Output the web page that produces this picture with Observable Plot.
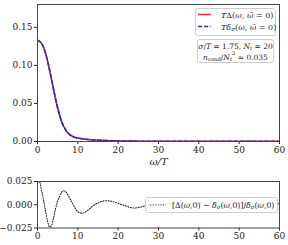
<!DOCTYPE html>
<html><head><meta charset="utf-8">
<script src="https://cdn.jsdelivr.net/npm/d3@7"></script>
<script src="https://cdn.jsdelivr.net/npm/@observablehq/plot@0.6"></script>
<style>
html,body{margin:0;padding:0;background:#fff;}
#chart{width:288px;height:245px;position:relative;overflow:hidden;}
#chart svg{display:block;}
#chart svg, #chart svg text{font-family:"DejaVu Serif","Liberation Serif",serif !important;}
#overlay{position:absolute;left:0;top:0;pointer-events:none;}
</style></head><body><div id="chart"></div>
<script>
// ---- data ----
const omegaTop   = [0, 1, 2, 3, 4, 5, 6, 7, 8, 9, 10, 12, 14, 16, 18, 20, 25, 30, 40, 50, 60];
const deltaT     = [0.133, 0.129, 0.116, 0.094, 0.068, 0.044, 0.026, 0.015, 0.009, 0.006, 0.0045, 0.003, 0.002, 0.0015, 0.001, 0.0007, 0.0004, 0.0003, 0.0002, 0.0001, 0.0001];
const deltaSigma = [0.133, 0.129, 0.116, 0.094, 0.068, 0.044, 0.026, 0.015, 0.009, 0.006, 0.0045, 0.003, 0.002, 0.0015, 0.001, 0.0007, 0.0004, 0.0003, 0.0002, 0.0001, 0.0001];

const omegaBottom = [0, 0.5, 1, 1.5, 2, 2.5, 3, 3.5, 4, 4.5, 5, 5.5, 6, 6.5, 7, 7.5, 8, 8.5, 9, 9.5, 10, 10.5, 11, 12, 13, 14, 15, 16, 17, 18, 19, 20, 21, 22, 23, 24, 25, 26, 28, 30, 35, 40, 45, 50, 55, 60];
const relDiff     = [0.035, 0.026, 0.016, 0.005, -0.007, -0.018, -0.024, -0.022, -0.014, -0.004, 0.004, 0.009, 0.0135, 0.015, 0.014, 0.011, 0.007, 0.003, -0.001, -0.005, -0.0075, -0.0088, -0.009, -0.0075, -0.004, -0.0005, 0.002, 0.0037, 0.0043, 0.004, 0.003, 0.0015, 0, -0.0015, -0.003, -0.0035, -0.003, -0.002, 0, 0.0008, 0.001, 0.001, 0.001, 0.001, 0.001, 0.001];

const xTicks       = [0, 10, 20, 30, 40, 50, 60];
const yTicksTop    = [0, 0.05, 0.10, 0.15];
const yTicksBottom = [-0.025, 0, 0.025];
const xLabel = "ω/T";

// legend texts as segments [text, italic, shift('sub'|'sup'|null)]
const legendTopA = [["T", 1], ["Δ(", 0], ["ω", 1], [", ", 0], ["ω\u0304", 1], [" = 0)", 0]];
const legendTopB = [["T", 1], ["δ", 1], ["σ", 1, "sub"], ["(", 0], ["ω", 1], [", ", 0], ["ω\u0304", 1], [" = 0)", 0]];
const infoLine1  = [["σ", 1], ["/", 0], ["T", 1], [" = 1.75, ", 0], ["N", 1], ["t", 1, "sub"], [" = 20", 0]];
const infoLine2  = [["n", 1], ["cond", 0, "sub"], ["/", 0], ["N", 1], ["t", 1, "sub"], ["2", 0, "sup"], [" ≃ 0.035", 0]];
const legendBottom = [["[Δ(", 0], ["ω", 1], [",0) − ", 0], ["δ", 1], ["σ", 1, "sub"], ["(", 0], ["ω", 1], [",0)]/", 0], ["δ", 1], ["σ", 1, "sub"], ["(", 0], ["ω", 1], [",0)", 0]];

// ---- plots ----
const font = "'DejaVu Serif', 'Liberation Serif', serif";
const topRows = omegaTop.map((w, i) => ({w, a: deltaT[i], b: deltaSigma[i]}));
const botRows = omegaBottom.map((w, i) => ({w, r: relDiff[i]}));

const topPlot = Plot.plot({
  width: 288, height: 166,
  marginTop: 4, marginBottom: 25, marginLeft: 37, marginRight: 9,
  style: {fontFamily: font, fontSize: "9px", color: "#222", background: "white"},
  x: {domain: [0, 60]},
  y: {domain: [0, 0.18]},
  marks: [
    Plot.axisX({ticks: xTicks, tickSize: 3, tickPadding: 2, label: null}),
    Plot.axisY({ticks: yTicksTop, tickFormat: d3.format(".2f"), tickSize: 3, tickPadding: 2, label: null}),
    Plot.line(topRows, {x: "w", y: "a", stroke: "#f03030", strokeWidth: 1.6, curve: "monotone-x", clip: true}),
    Plot.line(topRows, {x: "w", y: "b", stroke: "#2a2ab8", strokeWidth: 1.6, strokeDasharray: "4,2.2", curve: "monotone-x", clip: true}),
    Plot.frame({stroke: "#444", strokeWidth: 1}),
    Plot.text([xLabel], {frameAnchor: "bottom", lineAnchor: "middle", dy: 20, text: d => d, fontStyle: "italic", fontSize: 10, fill: "#222"})
  ]
});

const botPlot = Plot.plot({
  width: 288, height: 79,
  marginTop: 15, marginBottom: 17.5, marginLeft: 37, marginRight: 9,
  style: {fontFamily: font, fontSize: "9px", color: "#222", background: "white"},
  x: {domain: [0, 60]},
  y: {domain: [-0.025, 0.025]},
  marks: [
    Plot.axisX({ticks: xTicks, tickSize: 3, tickPadding: 2, label: null}),
    Plot.axisY({ticks: yTicksBottom, tickFormat: d3.format(".3f"), tickSize: 3, tickPadding: 2, label: null}),
    Plot.line(botRows, {x: "w", y: "r", stroke: "#222", strokeWidth: 1.1, strokeDasharray: "1,1.6", curve: "monotone-x", clip: true}),
    Plot.frame({stroke: "#444", strokeWidth: 1})
  ]
});

const chart = document.getElementById("chart");
chart.appendChild(topPlot);
chart.appendChild(botPlot);

// ---- legends overlay ----
const ov = d3.select(chart).append("svg").attr("id", "overlay")
  .attr("width", 288).attr("height", 245);

function richText(g, segs, x, y, size, anchor) {
  const t = g.append("text").attr("x", x).attr("y", y)
    .attr("font-size", size).attr("fill", "#222")
    .attr("text-anchor", anchor || "start").attr("dominant-baseline", "central");
  let prev = 0;
  for (const [s, it, sh] of segs) {
    const shift = sh === "sub" ? 2.2 : sh === "sup" ? -3.2 : 0;
    const ts = t.append("tspan").text(s).attr("dy", shift - prev);
    if (it) ts.attr("font-style", "italic");
    if (sh) ts.attr("font-size", size * 0.7);
    prev = shift;
  }
  return t;
}
function box(x, y, w, h) {
  ov.append("rect").attr("x", x).attr("y", y).attr("width", w).attr("height", h)
    .attr("rx", 2).attr("fill", "white").attr("fill-opacity", 0.85)
    .attr("stroke", "#ccc").attr("stroke-width", 1);
}
// top legend
box(195.5, 8.5, 80, 27);
ov.append("line").attr("x1", 198).attr("x2", 211).attr("y1", 14.5).attr("y2", 14.5)
  .attr("stroke", "#f03030").attr("stroke-width", 1.6);
ov.append("line").attr("x1", 198).attr("x2", 211).attr("y1", 26.5).attr("y2", 26.5)
  .attr("stroke", "#2a2ab8").attr("stroke-width", 1.6).attr("stroke-dasharray", "4,2.2");
richText(ov, legendTopA, 221, 14.5, 8);
richText(ov, legendTopB, 221, 26.5, 8);
// info box
box(197.5, 39.5, 76, 23);
richText(ov, infoLine1, 235.5, 45.5, 7.5, "middle");
richText(ov, infoLine2, 235.5, 56.5, 7.5, "middle");
// bottom legend
box(145.5, 197.5, 132, 15);
ov.append("line").attr("x1", 150).attr("x2", 166).attr("y1", 205).attr("y2", 205)
  .attr("stroke", "#222").attr("stroke-width", 1.1).attr("stroke-dasharray", "1,1.6");
richText(ov, legendBottom, 172, 205, 7.8);
</script></body></html>
